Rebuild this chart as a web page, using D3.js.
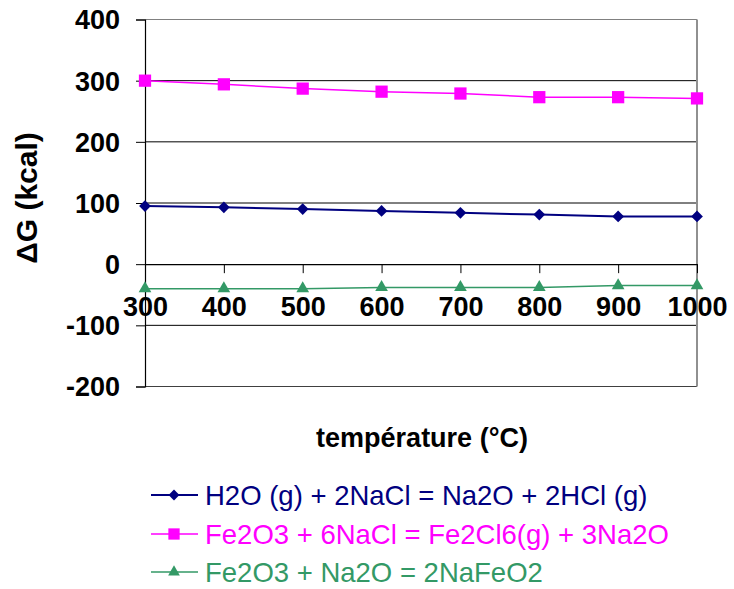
<!DOCTYPE html>
<html>
<head>
<meta charset="utf-8">
<script src="https://cdn.jsdelivr.net/npm/d3@7"></script>
<style>
html,body{margin:0;padding:0;background:#fff;}
svg{display:block;}
text{font-family:"Liberation Sans",Arial,sans-serif;}
</style>
</head>
<body>
<svg id="chart" width="734" height="589"></svg>
<script>
const temperatures = [300, 400, 500, 600, 700, 800, 900, 1000];
const seriesNames = [
  "H2O (g) + 2NaCl = Na2O + 2HCl (g)",
  "Fe2O3 + 6NaCl = Fe2Cl6(g) + 3Na2O",
  "Fe2O3 + Na2O = 2NaFeO2"
];
const h2oValues = [95, 93, 90, 87, 84, 81, 78, 78];
const fe2cl6Values = [300, 294, 287, 282, 279, 273, 273, 271];
const nafeo2Values = [-40, -40, -40, -38, -38, -38, -35, -35];
const yTicks = [-200, -100, 0, 100, 200, 300, 400];
const xTitle = "température (°C)";
const yTitle = "ΔG (kcal)";

const diamond = d3.symbolDiamond2 || d3.symbolDiamond;
const series = [
  {name: seriesNames[0], values: h2oValues, color: "#000080", shape: diamond, size: 88, width: 2},
  {name: seriesNames[1], values: fe2cl6Values, color: "#FF00FF", shape: d3.symbolSquare, size: 150, width: 1.5},
  {name: seriesNames[2], values: nafeo2Values, color: "#339966", shape: d3.symbolTriangle, size: 70, width: 1.5}
];

const svg = d3.select("#chart");
const pLeft = 145, pRight = 697, pTop = 19.5, pBottom = 386.5;
const x = d3.scaleLinear().domain([300, 1000]).range([pLeft, pRight]);
const y = d3.scaleLinear().domain([-200, 400]).range([pBottom, pTop]);
const fmt = d => String(d);

// gridlines
svg.append("g").selectAll("line").data(yTicks.filter(v => v !== 0 && v !== 400 && v !== -200))
  .join("line")
  .attr("x1", pLeft).attr("x2", pRight)
  .attr("y1", d => y(d)).attr("y2", d => y(d))
  .attr("stroke", "#000").attr("stroke-width", 1);

// plot border (top, right, bottom)
svg.append("line").attr("x1", pLeft).attr("x2", pRight).attr("y1", y(400)).attr("y2", y(400)).attr("stroke", "#808080").attr("stroke-width", 1);
svg.append("line").attr("x1", pLeft).attr("x2", pRight).attr("y1", y(-200)).attr("y2", y(-200)).attr("stroke", "#404040").attr("stroke-width", 1);
svg.append("line").attr("x1", pRight).attr("x2", pRight).attr("y1", y(400)).attr("y2", y(-200)).attr("stroke", "#909090").attr("stroke-width", 2);

// y axis
const yAxis = svg.append("g").attr("transform", `translate(${pLeft},0)`)
  .call(d3.axisLeft(y).tickValues(yTicks).tickSize(9).tickPadding(16).tickFormat(fmt));
yAxis.select(".domain").attr("stroke", "#000").attr("stroke-width", 1.2);
yAxis.selectAll(".tick line").attr("stroke", "#000");
yAxis.selectAll("text").attr("font-size", 27).attr("font-weight", "bold").attr("fill", "#000")
  .attr("font-family", "'Liberation Sans',Arial,sans-serif").attr("dy", "0.35em");

// x axis at zero
const xAxis = svg.append("g").attr("transform", `translate(0,${y(0)})`)
  .call(d3.axisBottom(x).tickValues(temperatures).tickSize(9).tickSizeOuter(0).tickFormat(fmt));
xAxis.select(".domain").attr("stroke", "#000").attr("stroke-width", 1.2);
xAxis.selectAll(".tick line").attr("stroke", "#000");
xAxis.selectAll("text").attr("font-size", 27).attr("font-weight", "bold").attr("fill", "#000")
  .attr("font-family", "'Liberation Sans',Arial,sans-serif").attr("y", 52).attr("dy", 0);

// series
series.forEach(s => {
  const pts = temperatures.map((t, i) => [x(t), y(s.values[i])]);
  svg.append("path").attr("d", d3.line()(pts)).attr("fill", "none")
    .attr("stroke", s.color).attr("stroke-width", s.width);
  svg.append("g").selectAll("path").data(pts).join("path")
    .attr("transform", d => `translate(${d[0]},${d[1]})`)
    .attr("d", d3.symbol().type(s.shape).size(s.size))
    .attr("fill", s.color);
});

// titles
svg.append("text").attr("x", 422).attr("y", 447).attr("text-anchor", "middle")
  .attr("font-size", 27).attr("font-weight", "bold").text(xTitle);
svg.append("text").attr("transform", "translate(37,198) rotate(-90)").attr("text-anchor", "middle")
  .attr("font-size", 30).attr("font-weight", "bold").text(yTitle);

// legend
const legendY = [495, 534, 572];
series.forEach((s, i) => {
  const g = svg.append("g").attr("transform", `translate(0,${legendY[i]})`);
  g.append("line").attr("x1", 151).attr("x2", 198).attr("y1", 0).attr("y2", 0)
    .attr("stroke", s.color).attr("stroke-width", s.width);
  g.append("path").attr("transform", "translate(174,0)")
    .attr("d", d3.symbol().type(s.shape).size(s.size * 0.85)).attr("fill", s.color);
  g.append("text").attr("x", 205).attr("y", 0).attr("dy", "0.35em")
    .attr("font-size", 27.5).attr("fill", s.color).text(s.name);
});
</script>
</body>
</html>
